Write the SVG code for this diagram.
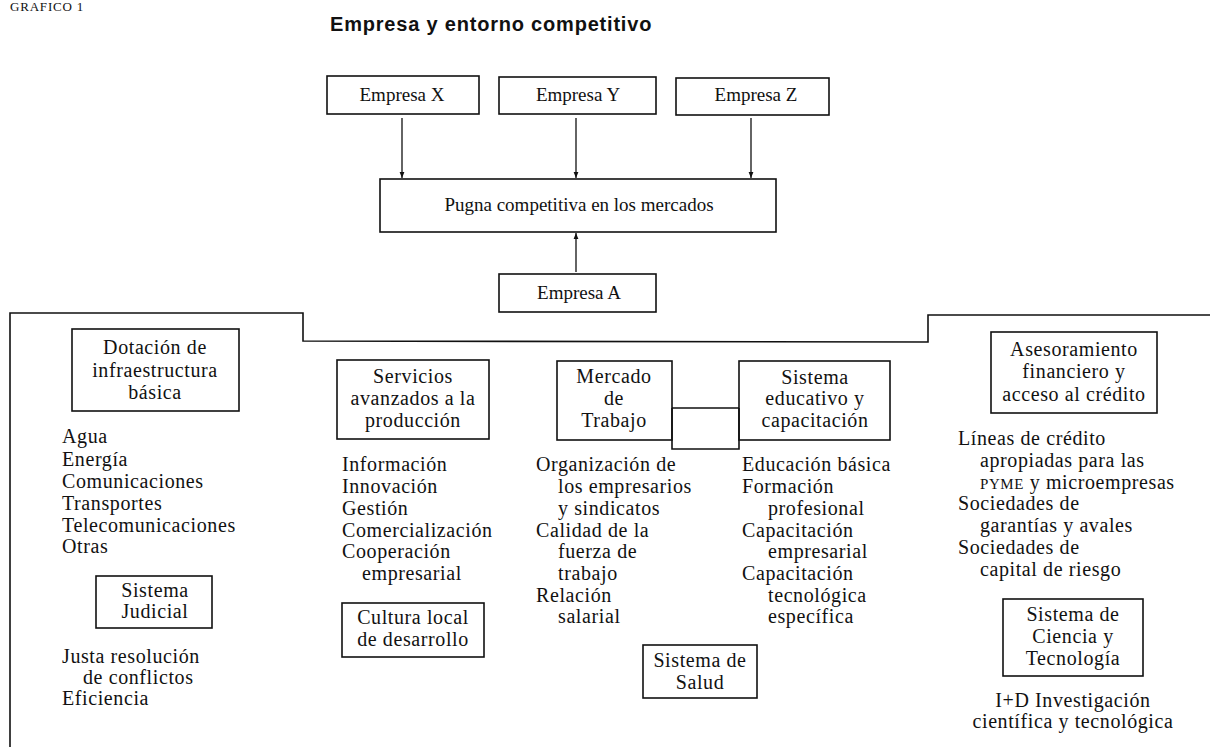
<svg xmlns="http://www.w3.org/2000/svg" width="1210" height="747" viewBox="0 0 1210 747">
<style>
text{font-family:"Liberation Serif","Times New Roman",serif;fill:#111}
.top{font-size:19px}
.b{font-size:20px;letter-spacing:0.6px}
.c{text-anchor:middle}
.title{font-family:"Liberation Sans",Arial,sans-serif;font-weight:bold;font-size:20px;letter-spacing:0.8px}
.box{fill:none;stroke:#111;stroke-width:1.6}
.ln{fill:none;stroke:#111;stroke-width:1.3}
.sc{font-size:15px}
</style>
<defs>
<marker id="ah" viewBox="0 0 10 10" refX="10" refY="5" markerWidth="6" markerHeight="7" markerUnits="userSpaceOnUse" orient="auto">
<path d="M0,1 L10,5 L0,9 Z" fill="#111"/>
</marker>
</defs>
<rect width="1210" height="747" fill="#fff"/>
<text x="10" y="11" style="font-size:13px;letter-spacing:0.8px">GRAFICO 1</text>
<text class="title" x="330" y="31">Empresa y entorno competitivo</text>

<g id="frame"><path class="box" d="M10,747 L10,313 L303,313 L303,341 L928,342 L928,315 L1210,315"/></g>

<g id="connectors">
<line class="ln" x1="402" y1="118" x2="402" y2="178" marker-end="url(#ah)"/>
<line class="ln" x1="576" y1="118" x2="576" y2="178" marker-end="url(#ah)"/>
<line class="ln" x1="751" y1="118" x2="751" y2="178" marker-end="url(#ah)"/>
<line class="ln" x1="576" y1="272" x2="576" y2="233" marker-end="url(#ah)"/>
<path class="box" d="M672,408 L739,408 M672,408 L672,449 L739,449 L739,408"/>
</g>

<g id="empresa-x"><rect class="box" x="327" y="76" width="152" height="38"/><text class="top c" x="402" y="101">Empresa X</text></g>
<g id="empresa-y"><rect class="box" x="499" y="77" width="157" height="37"/><text class="top c" x="578" y="101">Empresa Y</text></g>
<g id="empresa-z"><rect class="box" x="676" y="78" width="153" height="37"/><text class="top c" x="756" y="101">Empresa Z</text></g>
<g id="pugna"><rect class="box" x="380" y="179" width="396" height="53"/><text class="top c" x="579" y="211">Pugna competitiva en los mercados</text></g>
<g id="empresa-a"><rect class="box" x="499" y="274" width="157" height="38"/><text class="top c" x="579" y="299">Empresa A</text></g>

<g id="infraestructura">
<rect class="box" x="72" y="329" width="167" height="82"/>
<text class="b c" x="155" y="354">Dotación de</text>
<text class="b c" x="155" y="377">infraestructura</text>
<text class="b c" x="155" y="399">básica</text>
<text class="b" x="62" y="443">Agua</text>
<text class="b" x="62" y="466">Energía</text>
<text class="b" x="62" y="488">Comunicaciones</text>
<text class="b" x="62" y="510">Transportes</text>
<text class="b" x="62" y="532">Telecomunicaciones</text>
<text class="b" x="62" y="553">Otras</text>
</g>

<g id="judicial">
<rect class="box" x="96" y="576" width="116" height="52"/>
<text class="b c" x="155" y="597">Sistema</text>
<text class="b c" x="155" y="618">Judicial</text>
<text class="b" x="62" y="663">Justa resolución</text>
<text class="b" x="83" y="684">de conflictos</text>
<text class="b" x="62" y="705">Eficiencia</text>
</g>

<g id="servicios">
<rect class="box" x="337" y="360" width="152" height="79"/>
<text class="b c" x="413" y="383">Servicios</text>
<text class="b c" x="413" y="405">avanzados a la</text>
<text class="b c" x="413" y="427">producción</text>
<text class="b" x="342" y="471">Información</text>
<text class="b" x="342" y="493">Innovación</text>
<text class="b" x="342" y="515">Gestión</text>
<text class="b" x="342" y="537">Comercialización</text>
<text class="b" x="342" y="558">Cooperación</text>
<text class="b" x="362" y="580">empresarial</text>
</g>

<g id="cultura">
<rect class="box" x="342" y="603" width="142" height="54"/>
<text class="b c" x="413" y="624">Cultura local</text>
<text class="b c" x="413" y="646">de desarrollo</text>
</g>

<g id="mercado">
<rect class="box" x="557" y="361" width="115" height="79"/>
<text class="b c" x="614" y="383">Mercado</text>
<text class="b c" x="614" y="405">de</text>
<text class="b c" x="614" y="427">Trabajo</text>
<text class="b" x="536" y="471">Organización de</text>
<text class="b" x="558" y="493">los empresarios</text>
<text class="b" x="558" y="515">y sindicatos</text>
<text class="b" x="536" y="537">Calidad de la</text>
<text class="b" x="558" y="558">fuerza de</text>
<text class="b" x="558" y="580">trabajo</text>
<text class="b" x="536" y="602">Relación</text>
<text class="b" x="558" y="623">salarial</text>
</g>

<g id="educativo">
<rect class="box" x="739" y="361" width="151" height="79"/>
<text class="b c" x="815" y="384">Sistema</text>
<text class="b c" x="815" y="405">educativo y</text>
<text class="b c" x="815" y="427">capacitación</text>
<text class="b" x="742" y="471">Educación básica</text>
<text class="b" x="742" y="493">Formación</text>
<text class="b" x="768" y="515">profesional</text>
<text class="b" x="742" y="537">Capacitación</text>
<text class="b" x="768" y="558">empresarial</text>
<text class="b" x="742" y="580">Capacitación</text>
<text class="b" x="768" y="602">tecnológica</text>
<text class="b" x="768" y="623">específica</text>
</g>

<g id="salud">
<rect class="box" x="643" y="645" width="114" height="53"/>
<text class="b c" x="700" y="667">Sistema de</text>
<text class="b c" x="700" y="689">Salud</text>
</g>

<g id="financiero">
<rect class="box" x="991" y="332" width="166" height="81"/>
<text class="b c" x="1074" y="356">Asesoramiento</text>
<text class="b c" x="1074" y="378">financiero y</text>
<text class="b c" x="1074" y="401">acceso al crédito</text>
<text class="b" x="958" y="445">Líneas de crédito</text>
<text class="b" x="980" y="467">apropiadas para las</text>
<text class="b" x="980" y="489"><tspan class="sc">PYME</tspan> y microempresas</text>
<text class="b" x="958" y="510">Sociedades de</text>
<text class="b" x="980" y="532">garantías y avales</text>
<text class="b" x="958" y="554">Sociedades de</text>
<text class="b" x="980" y="576">capital de riesgo</text>
</g>

<g id="ciencia">
<rect class="box" x="1003" y="599" width="140" height="77"/>
<text class="b c" x="1073" y="621">Sistema de</text>
<text class="b c" x="1073" y="643">Ciencia y</text>
<text class="b c" x="1073" y="665">Tecnología</text>
<text class="b c" x="1073" y="707">I+D Investigación</text>
<text class="b c" x="1073" y="728">científica y tecnológica</text>
</g>
</svg>
